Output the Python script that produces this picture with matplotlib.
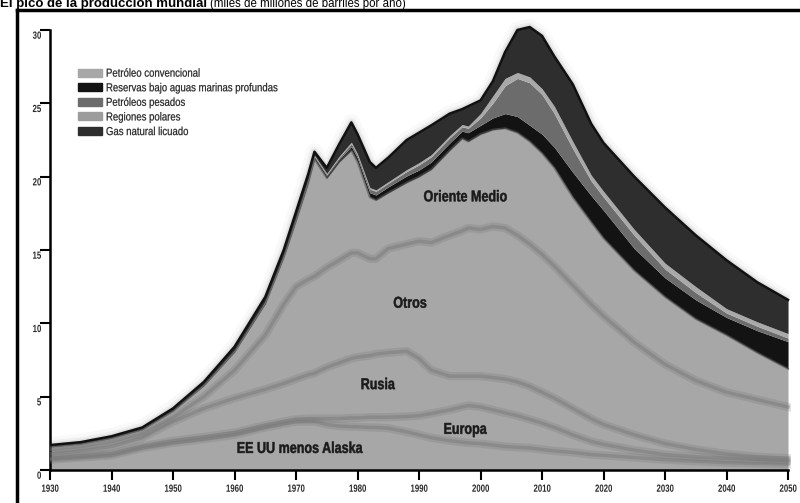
import numpy as np
import matplotlib
matplotlib.use("Agg")
import matplotlib.pyplot as plt
from matplotlib.font_manager import FontProperties
from matplotlib.lines import Line2D
from matplotlib.patches import Rectangle, PathPatch
from matplotlib.textpath import TextPath
from matplotlib.transforms import Affine2D, IdentityTransform

# ---- data: top of each stacked layer (miles de millones de barriles / año) ----
years = [1930, 1935, 1940, 1945, 1950, 1955, 1960, 1965, 1968, 1970, 1972, 1973,
         1975, 1977, 1979, 1980, 1982, 1983, 1985, 1988, 1990, 1992, 1995, 1997,
         1998, 2000, 2002, 2004, 2006, 2008, 2010, 2012, 2015, 2018, 2020, 2025,
         2030, 2035, 2040, 2045, 2050]

eeuu_top = [0.70, 0.85, 1.00, 1.50, 1.85, 2.10, 2.40, 2.90, 3.15, 3.30, 3.30, 3.30,
            3.10, 3.00, 2.95, 2.95, 2.90, 2.90, 2.85, 2.60, 2.40, 2.20, 2.00, 1.90,
            1.85, 1.80, 1.70, 1.60, 1.55, 1.50, 1.40, 1.30, 1.20, 1.05, 1.00, 0.85,
            0.70, 0.60, 0.50, 0.45, 0.40]
europa_top = [0.80, 0.95, 1.12, 1.62, 1.98, 2.25, 2.55, 3.05, 3.30, 3.45, 3.50, 3.50,
              3.50, 3.50, 3.55, 3.55, 3.60, 3.60, 3.60, 3.65, 3.70, 3.85, 4.10, 4.30,
              4.40, 4.30, 4.10, 3.90, 3.70, 3.45, 3.20, 2.90, 2.40, 1.95, 1.75, 1.35,
              1.05, 0.90, 0.80, 0.72, 0.65]
rusia_top = [1.10, 1.30, 1.60, 2.20, 3.30, 4.20, 4.90, 5.50, 5.90, 6.20, 6.50, 6.60,
             7.00, 7.30, 7.60, 7.70, 7.80, 7.90, 8.00, 8.10, 7.60, 6.80, 6.40, 6.40,
             6.40, 6.40, 6.30, 6.20, 6.00, 5.70, 5.30, 4.90, 4.20, 3.50, 3.10, 2.40,
             1.80, 1.40, 1.10, 0.90, 0.80]
otros_top = [1.40, 1.60, 1.95, 2.50, 3.60, 5.00, 6.80, 9.20, 11.30, 12.50, 13.00, 13.20,
             13.80, 14.30, 14.80, 14.80, 14.40, 14.40, 15.10, 15.40, 15.60, 15.50, 16.00, 16.30,
             16.50, 16.40, 16.60, 16.50, 16.00, 15.40, 14.70, 13.90, 12.60, 11.30, 10.50, 8.70,
             7.20, 6.10, 5.30, 4.80, 4.30]
# top of Oriente Medio = top of conventional oil
medio_top = [1.58, 1.78, 2.17, 2.75, 4.02, 5.75, 8.05, 11.35, 14.50, 17.00, 19.60, 21.20,
             19.90, 21.00, 21.80, 21.00, 18.60, 18.40, 18.90, 19.60, 20.00, 20.50, 21.80, 22.60,
             22.40, 22.90, 23.20, 23.30, 23.00, 22.40, 21.60, 20.60, 18.60, 16.90, 15.80, 13.60,
             11.80, 10.30, 9.20, 8.00, 6.90]
profundas_top = [1.60, 1.80, 2.19, 2.77, 4.05, 5.79, 8.10, 11.42, 14.58, 17.10, 19.72, 21.32,
                 20.05, 21.18, 22.05, 21.25, 18.90, 18.75, 19.30, 20.05, 20.45, 21.00, 22.30, 23.10,
                 23.00, 23.50, 24.00, 24.30, 24.10, 23.50, 22.90, 22.00, 20.30, 18.70, 17.70, 15.10,
                 13.10, 11.60, 10.40, 9.50, 8.75]
pesados_top = [1.61, 1.81, 2.20, 2.78, 4.06, 5.81, 8.13, 11.46, 14.63, 17.16, 19.80, 21.40,
               20.15, 21.30, 22.25, 21.45, 19.15, 19.00, 19.55, 20.35, 20.80, 21.35, 22.65, 23.40,
               23.30, 24.00, 25.00, 26.20, 26.70, 26.40, 25.60, 24.30, 21.90, 19.70, 18.60, 16.00,
               13.70, 12.10, 10.70, 9.80, 9.00]
polares_top = [1.62, 1.82, 2.21, 2.79, 4.07, 5.83, 8.16, 11.50, 14.68, 17.22, 19.86, 21.46,
               20.22, 21.38, 22.35, 21.55, 19.25, 19.10, 19.65, 20.48, 20.95, 21.50, 22.80, 23.55,
               23.45, 24.30, 25.50, 26.70, 27.10, 26.80, 26.00, 24.80, 22.40, 20.10, 19.00, 16.40,
               14.10, 12.50, 11.00, 10.10, 9.30]
total_top = [1.70, 1.90, 2.30, 2.90, 4.20, 6.00, 8.40, 11.80, 15.00, 17.60, 20.20, 21.70,
             20.60, 22.20, 23.70, 22.90, 21.00, 20.60, 21.30, 22.50, 23.00, 23.50, 24.30, 24.60,
             24.80, 25.20, 26.50, 28.50, 30.00, 30.20, 29.60, 28.20, 26.30, 23.60, 22.30, 20.00,
             17.90, 16.00, 14.30, 12.80, 11.60]

x_ticks = list(range(1930, 2051, 10))
y_ticks = list(range(0, 31, 5))

legend_labels = ["Petróleo convencional", "Reservas bajo aguas marinas profundas",
                 "Petróleos pesados", "Regiones polares", "Gas natural licuado"]
region_labels = ["EE UU menos Alaska", "Europa", "Rusia", "Otros", "Oriente Medio"]
region_pos = [(1970.6, 1.55), (1997.5, 2.85), (1983.3, 5.9), (1988.5, 11.45), (1997.5, 18.7)]

C_CONV = "#a7a7a7"
C_DEEP = "#131313"
C_HEAVY = "#6c6c6c"
C_POLAR = "#a9a9a9"
C_GNL = "#2e2e2e"

FP_REG = FontProperties(family="Liberation Sans")
FP_BOLD = FontProperties(family="Liberation Sans", weight="bold")


def narrow_text(fig, px, py, s, pt, prop, color, squeeze=0.82, ha="left", stroke=0.0):
    # condensed lettering: a text path squeezed horizontally, placed in pixels
    size = pt * fig.dpi / 72.0
    path = TextPath((0, 0), s, size=size, prop=prop)
    w = path.get_extents().x1 * squeeze
    dx = {"left": 0, "center": -w / 2, "right": -w}[ha]
    tr = Affine2D().scale(squeeze, 1).translate(px + dx, py - 0.36 * size)
    patch = PathPatch(path, transform=tr + IdentityTransform(), facecolor=color,
                      edgecolor=color, lw=stroke)
    fig.add_artist(patch)


x = np.array(years)
fig = plt.figure(figsize=(8.0, 5.03), dpi=100)
ax = fig.add_axes([50 / 800, 33 / 503, 740.5 / 800, 454.7 / 503])

# soft halo around the outer edge
for lw, a in [(12, 0.025), (7, 0.04), (4, 0.06)]:
    ax.plot(x, total_top, color="black", lw=lw, alpha=a, solid_capstyle="butt", zorder=1)

zero = np.zeros(len(x))
ax.fill_between(x, zero, medio_top, color=C_CONV, lw=0, zorder=2)
ax.fill_between(x, medio_top, profundas_top, color=C_DEEP, lw=0, zorder=2)
ax.fill_between(x, profundas_top, pesados_top, color=C_HEAVY, lw=0, zorder=2)
ax.fill_between(x, pesados_top, polares_top, color=C_POLAR, lw=0, zorder=2)
ax.fill_between(x, polares_top, total_top, color=C_GNL, lw=0, zorder=2)

# shaded seams between the conventional regions
for b in [eeuu_top, europa_top, rusia_top, otros_top]:
    ax.plot(x, b, color="#6a6a6a", lw=6, alpha=0.2, zorder=3)
    ax.plot(x, b, color="#787878", lw=2.5, alpha=0.45, zorder=3)
ax.plot(x, medio_top, color="#555555", lw=1.5, alpha=0.6, zorder=3)
ax.plot(x, total_top, color="#111111", lw=1.8, zorder=3)

ax.set_xlim(1930, 2050.4)
ax.set_ylim(0, 31)
ax.set_xticks(x_ticks)
ax.set_yticks(y_ticks)
for s in ["top", "right"]:
    ax.spines[s].set_visible(False)
ax.spines["left"].set_bounds(0, 30)
ax.spines["bottom"].set_bounds(1930, 2050)
ax.spines["left"].set_linewidth(1.8)
ax.spines["bottom"].set_linewidth(1.8)
ax.tick_params(length=7, width=1.5, color="black", labelleft=False, labelbottom=False)

# tick labels in condensed lettering
for t in x_ticks:
    px, py = ax.transData.transform((t, 0))
    narrow_text(fig, px, py - 18, str(t), 7.5, FP_BOLD, "#2a2a2a", squeeze=0.75, ha="center")
for t in y_ticks:
    px, py = ax.transData.transform((1930, t))
    narrow_text(fig, px - 9, py - 5, str(t), 7.5, FP_BOLD, "#2a2a2a", squeeze=0.75, ha="right")

# region names
for txt, (xx, yy) in zip(region_labels, region_pos):
    px, py = ax.transData.transform((xx, yy))
    narrow_text(fig, px, py, txt, 11.3, FP_BOLD, "#1a1a1a", squeeze=0.8, ha="center",
                stroke=0.35)

# legend drawn as boxes + text in pixel positions
legend_colors = [C_CONV, C_DEEP, C_HEAVY, "#9c9c9c", C_GNL]
for i, (lab, col) in enumerate(zip(legend_labels, legend_colors)):
    yc = 503 - (72.5 + i * 14.6)
    fig.patches.append(Rectangle((78 / 800, (yc - 4) / 503), 24 / 800, 8 / 503,
                                 transform=fig.transFigure, color=col, zorder=6))
    narrow_text(fig, 106, yc, lab, 8.3, FP_REG, "#222222", squeeze=0.83, stroke=0.15)

# frame and title (top cut off as in the source)
fig.lines.append(Line2D([17 / 800, 1], [1 - 10 / 503, 1 - 10 / 503], color="black",
                        lw=2.5, transform=fig.transFigure))
fig.lines.append(Line2D([17 / 800, 17 / 800], [0, 1 - 10 / 503], color="black",
                        lw=2.5, transform=fig.transFigure))
fig.text(0.0, 1 - 7.5 / 503, "El pico de la producción mundial", family="Liberation Sans",
         weight="bold", fontsize=9.5, va="baseline", ha="left")
fig.text(210 / 800, 1 - 7.5 / 503, "(miles de millones de barriles por año)",
         family="Liberation Sans", fontsize=8.3, va="baseline", ha="left")

fig.savefig("out.png", dpi=100)
